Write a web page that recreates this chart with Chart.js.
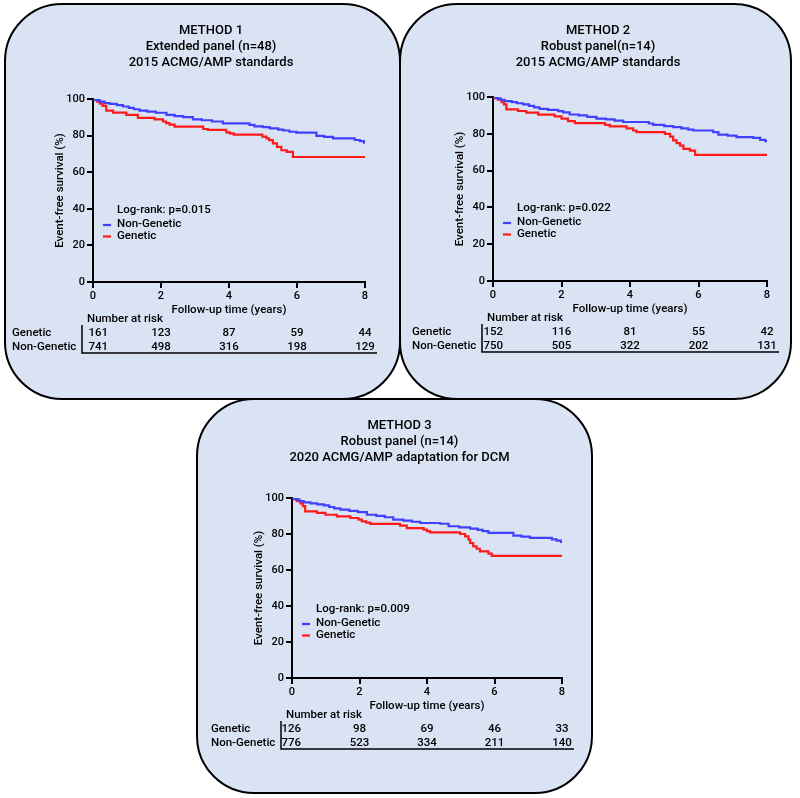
<!DOCTYPE html>
<html>
<head>
<meta charset="utf-8">
<script src="https://cdn.jsdelivr.net/npm/chart.js@4/dist/chart.umd.min.js"></script>
<style>
  body { margin: 0; background: #fff; width: 800px; height: 798px; position: relative; overflow: hidden; }
  .panel { position: absolute; box-sizing: border-box; border: 2px solid #000; border-radius: 58px; background: #dae3f3; }
  canvas { position: absolute; }
</style>
</head>
<body>
<div class="panel" style="left:4px;top:3px;width:397px;height:397px"></div>
<div class="panel" style="left:399px;top:3px;width:393px;height:397px"></div>
<div class="panel" style="left:196px;top:398px;width:397px;height:396px"></div>
<canvas id="c1" width="397" height="397" style="left:4px;top:3px"></canvas>
<canvas id="c2" width="393" height="397" style="left:399px;top:3px"></canvas>
<canvas id="c3" width="397" height="396" style="left:196px;top:398px"></canvas>
<script>
// risk table time points and axis ticks
const riskTimes = [0, 2, 4, 6, 8];

// METHOD 1
const m1Title = ["METHOD 1", "Extended panel (n=48)", "2015 ACMG/AMP standards"];
const m1P = "0.015";
const m1NonT = [0, 0.08, 0.2, 0.34, 0.5, 0.7, 0.88, 1.05, 1.2, 1.37, 1.6, 1.85, 2.16, 2.4, 2.65, 2.94, 3.2, 3.5, 3.82, 4.6, 4.75, 5.0, 5.2, 5.45, 5.6, 5.78, 5.98, 6.57, 6.8, 7.06, 7.7, 7.85, 7.97, 8];
const m1NonS = [100, 99.4, 98.6, 97.8, 97.3, 96.7, 95.9, 95.2, 94.4, 93.7, 93.1, 92.5, 91.3, 90.6, 90.1, 88.9, 88.4, 87.7, 86.7, 85.9, 85.0, 84.6, 84.0, 83.3, 82.8, 82.1, 81.6, 79.9, 79.3, 78.5, 77.6, 77.0, 76.2, 76.2];
const m1GenT = [0, 0.05, 0.12, 0.2, 0.28, 0.39, 0.59, 0.98, 1.32, 1.81, 2.06, 2.15, 2.25, 2.4, 3.24, 3.38, 3.92, 4.02, 4.14, 4.98, 5.1, 5.18, 5.29, 5.41, 5.54, 5.7, 5.88, 8];
const m1GenS = [100, 99.5, 98.6, 97.5, 96.2, 93.7, 92.6, 91.3, 89.7, 88.9, 87.7, 86.8, 86.0, 84.9, 83.6, 83.1, 81.8, 81.2, 80.5, 79.4, 78.5, 77.5, 75.7, 73.8, 72.0, 71.1, 68.3, 68.3];
const m1RiskGen = [161, 123, 87, 59, 44];
const m1RiskNon = [741, 498, 316, 198, 129];

// METHOD 2
const m2Title = ["METHOD 2", "Robust panel(n=14)", "2015 ACMG/AMP standards"];
const m2P = "0.022";
const m2NonT = [0, 0.1, 0.22, 0.34, 0.55, 0.7, 0.88, 1.05, 1.2, 1.36, 1.6, 1.9, 2.05, 2.24, 2.5, 2.75, 3.02, 3.3, 3.55, 3.8, 4.55, 4.68, 5.0, 5.26, 5.5, 5.7, 5.85, 6.43, 6.58, 6.85, 7.11, 7.6, 7.8, 7.95, 8];
const m2NonS = [100, 99.2, 98.5, 97.8, 97.2, 96.6, 96.0, 95.2, 94.4, 93.6, 93.0, 92.3, 91.6, 90.5, 90.0, 89.2, 88.2, 87.8, 87.2, 86.4, 85.6, 84.9, 84.2, 83.6, 82.9, 82.3, 81.8, 80.9, 79.6, 79.0, 78.2, 77.8, 76.7, 76.0, 76.0];
const m2GenT = [0, 0.05, 0.15, 0.25, 0.32, 0.39, 0.73, 0.97, 1.32, 1.8, 2.0, 2.19, 2.39, 3.27, 3.41, 3.9, 4.09, 4.19, 5.02, 5.17, 5.26, 5.36, 5.46, 5.56, 5.75, 5.9, 8];
const m2GenS = [100, 99.4, 98.5, 97.2, 96.0, 93.3, 92.4, 91.5, 90.4, 89.5, 88.2, 86.9, 85.8, 84.9, 84.0, 82.9, 81.8, 80.9, 80.0, 78.5, 76.4, 74.9, 73.6, 71.8, 70.9, 68.5, 68.5];
const m2RiskGen = [152, 116, 81, 55, 42];
const m2RiskNon = [750, 505, 322, 202, 131];

// METHOD 3
const m3Title = ["METHOD 3", "Robust panel (n=14)", "2020 ACMG/AMP adaptation for DCM"];
const m3P = "0.009";
const m3NonT = [0, 0.1, 0.22, 0.35, 0.55, 0.75, 0.94, 1.1, 1.25, 1.43, 1.7, 1.95, 2.22, 2.5, 2.75, 3.0, 3.3, 3.55, 3.8, 4.39, 4.64, 4.95, 5.28, 5.5, 5.65, 5.82, 6.56, 6.8, 7.05, 7.7, 7.84, 7.97, 8];
const m3NonS = [100, 99.2, 98.3, 97.6, 97.0, 96.5, 95.9, 95.0, 94.2, 93.5, 92.8, 92.1, 90.7, 90.1, 89.3, 88.0, 87.4, 86.8, 86.1, 85.7, 84.3, 83.7, 83.0, 82.3, 81.6, 80.6, 79.1, 78.5, 77.8, 77.0, 76.3, 75.6, 75.6];
const m3GenT = [0, 0.05, 0.15, 0.25, 0.32, 0.39, 0.74, 0.99, 1.33, 1.73, 1.97, 2.07, 2.2, 2.32, 3.2, 3.4, 3.9, 4.0, 4.09, 4.98, 5.13, 5.23, 5.28, 5.37, 5.47, 5.57, 5.82, 5.92, 8];
const m3GenS = [100, 99.4, 98.2, 97.0, 95.5, 92.6, 91.7, 90.7, 89.8, 88.9, 88.0, 87.0, 86.3, 85.6, 84.6, 83.3, 82.4, 81.6, 80.9, 80.0, 78.7, 76.9, 75.0, 73.1, 71.8, 70.4, 69.1, 67.8, 67.8];
const m3RiskGen = [126, 98, 69, 46, 33];
const m3RiskNon = [776, 523, 334, 211, 140];

const BLUE = "#4040ff";
const RED = "#ff1a1a";
const FONT = "Roboto";

Chart.defaults.font.family = FONT;
Chart.defaults.font.weight = "500";
Chart.defaults.color = "#000";

const kmExtras = {
  id: "kmExtras",
  afterDraw(chart, args, o) {
    const { ctx, chartArea: a, scales: { x } } = chart;
    ctx.save();
    ctx.fillStyle = "#000";
    ctx.textBaseline = "middle";

    // title
    ctx.font = "500 13px " + FONT;
    ctx.textAlign = "center";
    o.title.forEach((t, i) => ctx.fillText(t, o.titleX, 27.5 + i * 16));

    // legend
    ctx.font = "500 11.5px " + FONT;
    ctx.textAlign = "left";
    ctx.fillText("Log-rank: p=" + o.p, a.left + 24, a.top + 111.5);
    ctx.fillText("Non-Genetic", a.left + 24, a.top + 125.5);
    ctx.fillText("Genetic", a.left + 24, a.top + 137);
    ctx.lineWidth = 2.2;
    ctx.strokeStyle = BLUE;
    ctx.beginPath(); ctx.moveTo(a.left + 10, a.top + 126); ctx.lineTo(a.left + 18, a.top + 126); ctx.stroke();
    ctx.strokeStyle = RED;
    ctx.beginPath(); ctx.moveTo(a.left + 10, a.top + 137.5); ctx.lineTo(a.left + 18, a.top + 137.5); ctx.stroke();

    // number at risk table
    ctx.fillText("Number at risk", a.left - 6, a.bottom + 37);
    ctx.fillText("Genetic", a.left - 81, a.bottom + 51);
    ctx.fillText("Non-Genetic", a.left - 81, a.bottom + 65);
    riskTimes.forEach((t, i) => {
      let px = x.getPixelForValue(t);
      if (i === 0) {
        ctx.textAlign = "right";
        px = a.left + o.firstRight;
      } else {
        ctx.textAlign = "center";
      }
      ctx.fillText(String(o.riskGen[i]), px, a.bottom + 51);
      ctx.fillText(String(o.riskNon[i]), px, a.bottom + 65);
    });
    ctx.strokeStyle = "#000";
    ctx.lineWidth = 1.5;
    ctx.beginPath();
    ctx.moveTo(a.left - 11, a.bottom + 43);
    ctx.lineTo(a.left - 11, a.bottom + 71);
    ctx.lineTo(a.right + 12, a.bottom + 71);
    ctx.stroke();
    ctx.restore();
  }
};

function pts(ts, ss) {
  return ts.map((t, i) => ({ x: t, y: ss[i] }));
}

function makeKM(id, area, cfg) {
  const canvas = document.getElementById(id);
  const W = canvas.width, H = canvas.height;
  const yW = 40, xH = 35;
  new Chart(canvas, {
    type: "line",
    data: {
      datasets: [
        { label: "Non-Genetic", data: pts(cfg.nonT, cfg.nonS), borderColor: BLUE, borderWidth: 2.2, stepped: true, pointRadius: 0, fill: false },
        { label: "Genetic", data: pts(cfg.genT, cfg.genS), borderColor: RED, borderWidth: 2.2, stepped: true, pointRadius: 0, fill: false }
      ]
    },
    options: {
      responsive: false,
      animation: false,
      layout: { padding: { left: area[0] - yW, top: area[1], right: W - area[2], bottom: H - area[3] - xH } },
      plugins: {
        legend: { display: false },
        tooltip: { enabled: false },
        kmExtras: cfg
      },
      scales: {
        x: {
          type: "linear", min: 0, max: 8,
          ticks: { stepSize: 2, font: { size: 11 }, padding: 2, maxRotation: 0 },
          grid: { drawOnChartArea: false, color: "#000", lineWidth: 2, tickLength: 6 },
          border: { color: "#000", width: 2 },
          title: { display: true, text: "Follow-up time (years)", font: { size: 11.5 }, padding: 0 },
          afterFit(s) { s.height = xH; }
        },
        y: {
          min: 0, max: 100,
          ticks: { stepSize: 20, font: { size: 11 }, padding: 2 },
          grid: { drawOnChartArea: false, color: "#000", lineWidth: 2, tickLength: 6 },
          border: { color: "#000", width: 2 },
          title: { display: true, text: "Event-free survival (%)", font: { size: 11.5 }, padding: 0 },
          afterFit(s) { s.width = yW; }
        }
      }
    },
    plugins: [kmExtras]
  });
}

makeKM("c1", [89, 96, 361, 279], { title: m1Title, titleX: 207, p: m1P, nonT: m1NonT, nonS: m1NonS, genT: m1GenT, genS: m1GenS, riskGen: m1RiskGen, riskNon: m1RiskNon, firstRight: 15 });
makeKM("c2", [94, 94, 368, 278], { title: m2Title, titleX: 199, p: m2P, nonT: m2NonT, nonS: m2NonS, genT: m2GenT, genS: m2GenS, riskGen: m2RiskGen, riskNon: m2RiskNon, firstRight: 10 });
makeKM("c3", [96, 100, 366, 280], { title: m3Title, titleX: 203.5, p: m3P, nonT: m3NonT, nonS: m3NonS, genT: m3GenT, genS: m3GenS, riskGen: m3RiskGen, riskNon: m3RiskNon, firstRight: 9 });
</script>
</body>
</html>
